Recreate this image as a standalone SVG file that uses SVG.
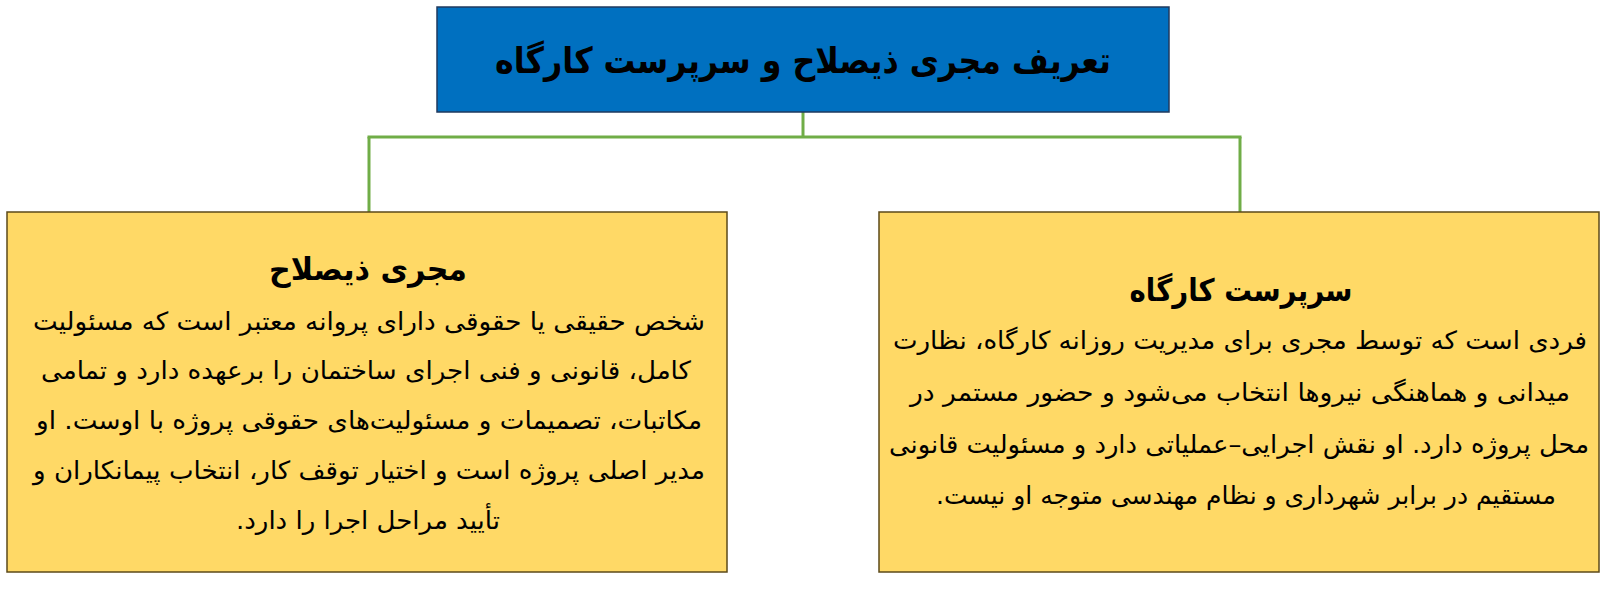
<svg xmlns="http://www.w3.org/2000/svg" width="1602" height="590" viewBox="0 0 1602 590">
<style>
  .bg{fill:#ffffff}
  .head{fill:#0070C0;stroke:#1F3A5F;stroke-width:1.5}
  .card{fill:#FFD966;stroke:#5C4A1A;stroke-width:1.5}
  .conn{fill:none;stroke:#70AD47;stroke-width:3}
  text{font-family:"DejaVu Sans","Noto Sans",sans-serif;fill:#000;direction:rtl;text-anchor:middle}
  .t0{font-size:36px;font-weight:bold}
  .t1{font-size:31px;font-weight:bold}
  .b{font-size:25px}
</style>
<rect class="bg" x="0" y="0" width="1602" height="590"/>
<g id="connectors">
  <path class="conn" d="M803 112 V137"/>
  <path class="conn" d="M367.5 137 H1241.5"/>
  <path class="conn" d="M369 137 V212"/>
  <path class="conn" d="M1240 137 V212"/>
</g>
<g id="node-title">
  <rect class="head" x="437" y="7" width="732" height="105"/>
  <text class="t0" x="803" y="73" textLength="616" lengthAdjust="spacingAndGlyphs">تعریف مجری ذیصلاح و سرپرست کارگاه</text>
</g>
<g id="node-mojri">
  <rect class="card" x="7" y="212" width="720" height="360"/>
  <text class="t1" x="368" y="280" textLength="198" lengthAdjust="spacingAndGlyphs">مجری ذیصلاح</text>
  <text class="b" x="369" y="330" textLength="672" lengthAdjust="spacingAndGlyphs">شخص حقیقی یا حقوقی دارای پروانه معتبر است که مسئولیت</text>
  <text class="b" x="366" y="379" textLength="650" lengthAdjust="spacingAndGlyphs">کامل، قانونی و فنی اجرای ساختمان را برعهده دارد و تمامی</text>
  <text class="b" x="369" y="429" textLength="666" lengthAdjust="spacingAndGlyphs">مکاتبات، تصمیمات و مسئولیت&#x200C;های حقوقی پروژه با اوست. او</text>
  <text class="b" x="369" y="479" textLength="672" lengthAdjust="spacingAndGlyphs">مدیر اصلی پروژه است و اختیار توقف کار، انتخاب پیمانکاران و</text>
  <text class="b" x="368" y="529" textLength="264" lengthAdjust="spacingAndGlyphs">تأیید مراحل اجرا را دارد.</text>
</g>
<g id="node-sarparast">
  <rect class="card" x="879" y="212" width="720" height="360"/>
  <text class="t1" x="1241" y="301" textLength="223" lengthAdjust="spacingAndGlyphs">سرپرست کارگاه</text>
  <text class="b" x="1240" y="349" textLength="694" lengthAdjust="spacingAndGlyphs">فردی است که توسط مجری برای مدیریت روزانه کارگاه، نظارت</text>
  <text class="b" x="1240" y="401" textLength="660" lengthAdjust="spacingAndGlyphs">میدانی و هماهنگی نیروها انتخاب می&#x200C;شود و حضور مستمر در</text>
  <text class="b" x="1239" y="453" textLength="700" lengthAdjust="spacingAndGlyphs">محل پروژه دارد. او نقش اجرایی–عملیاتی دارد و مسئولیت قانونی</text>
  <text class="b" x="1246" y="504" textLength="620" lengthAdjust="spacingAndGlyphs">مستقیم در برابر شهرداری و نظام مهندسی متوجه او نیست.</text>
</g>
</svg>
